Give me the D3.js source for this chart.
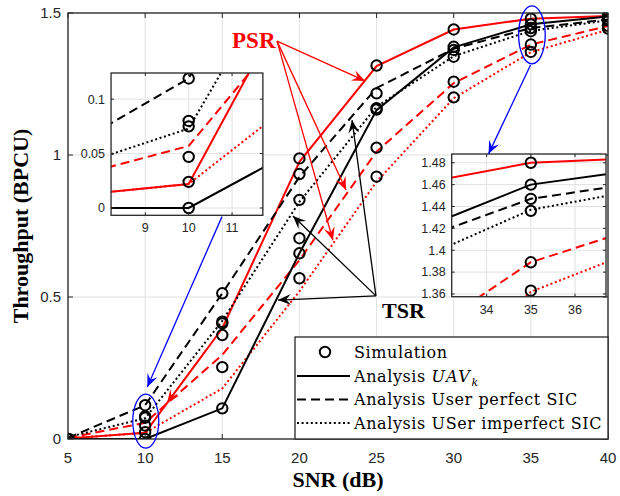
<!DOCTYPE html>
<html>
<head>
<script src="https://d3js.org/d3.v7.min.js"></script>
<style>
  body { margin: 0; background: #ffffff; }
</style>
</head>
<body>
<div id="chart"></div>
<script>
// SNR points (dB)
var snr = [5, 10, 15, 20, 25, 30, 35, 40];

// analysis curves, PSR (red) and TSR (black)
var psrUav       = [0.002, 0.022, 0.390, 0.976, 1.313, 1.442, 1.480, 1.489];
var psrPerfect   = [0.004, 0.057, 0.296, 0.630, 1.012, 1.253, 1.389, 1.454];
var psrImperfect = [0.002, 0.022, 0.178, 0.520, 0.906, 1.200, 1.362, 1.441];
var tsrUav       = [0.000, 0.000, 0.108, 0.654, 1.158, 1.379, 1.460, 1.488];
var tsrPerfect   = [0.004, 0.119, 0.513, 0.923, 1.236, 1.374, 1.447, 1.477];
var tsrImperfect = [0.007, 0.073, 0.416, 0.835, 1.170, 1.348, 1.437, 1.474];

// simulation markers
var simPsrUav       = [0.000, 0.024, 0.407, 0.988, 1.315, 1.442, 1.480, 1.490];
var simPsrPerfect   = [0.000, 0.047, 0.366, 0.654, 1.026, 1.258, 1.389, 1.455];
var simPsrImperfect = [0.000, 0.075, 0.253, 0.566, 0.924, 1.203, 1.363, 1.445];
var simTsrUav       = [0.000, 0.000, 0.108, 0.707, 1.160, 1.381, 1.460, 1.487];
var simTsrPerfect   = [0.000, 0.119, 0.513, 0.933, 1.217, 1.370, 1.447, 1.479];
var simTsrImperfect = [0.000, 0.080, 0.413, 0.842, 1.165, 1.346, 1.436, 1.474];

var xTicks = [5, 10, 15, 20, 25, 30, 35, 40];
var yTicks = [0, 0.5, 1, 1.5];
var yTickLabels = ["0", "0.5", "1", "1.5"];

var legendLabels = ["Simulation", "Analysis UAV_k", "Analysis User perfect SIC", "Analysis USer imperfect SIC"];

var RED = "#ff0000", BLACK = "#000000", BLUE = "#0000ff";
var DASH = "9,5", DOT = "2,2.6";

var series = [
  { line: psrUav,       sim: simPsrUav,       color: RED,   dash: null },
  { line: psrPerfect,   sim: simPsrPerfect,   color: RED,   dash: DASH },
  { line: psrImperfect, sim: simPsrImperfect, color: RED,   dash: DOT },
  { line: tsrUav,       sim: simTsrUav,       color: BLACK, dash: null },
  { line: tsrPerfect,   sim: simTsrPerfect,   color: BLACK, dash: DASH },
  { line: tsrImperfect, sim: simTsrImperfect, color: BLACK, dash: DOT }
];

var W = 620, H = 496;
var sans = "'Liberation Sans', Arial, Helvetica, sans-serif";
var serif = "'Liberation Serif', 'Times New Roman', serif";
var cmSerif = "'DejaVu Serif', serif";

var x = d3.scaleLinear().domain([5, 40]).range([68, 608]);
var y = d3.scaleLinear().domain([0, 1.5]).range([439, 13]);

var svg = d3.select("#chart").append("svg")
    .attr("width", W)
    .attr("height", H);
var defs = svg.append("defs");

// arrow heads
[["red", RED], ["black", BLACK], ["blue", BLUE]].forEach(function(c) {
  defs.append("marker")
      .attr("id", "arrow-" + c[0])
      .attr("viewBox", "-14 -7 15 14")
      .attr("refX", 0).attr("refY", 0)
      .attr("markerUnits", "userSpaceOnUse")
      .attr("markerWidth", 15).attr("markerHeight", 14)
      .attr("orient", "auto")
    .append("path")
      .attr("d", "M0,0 L-13,-5.5 L-8,0 L-13,5.5 Z")
      .attr("fill", c[1]);
});

// draws grid, curves, box and ticks for one axes (main or inset)
function drawPanel(xs, ys, o) {
  var g = svg.append("g");
  var xl = xs.range()[0], xr = xs.range()[1];
  var yb = ys.range()[0], yt = ys.range()[1];

  g.append("rect")
      .attr("x", xl).attr("y", yt)
      .attr("width", xr - xl).attr("height", yb - yt)
      .attr("fill", "#fff");

  // grid
  g.selectAll(null).data(o.xTicks).enter().append("line")
      .attr("x1", function(d) { return xs(d); }).attr("x2", function(d) { return xs(d); })
      .attr("y1", yb).attr("y2", yt)
      .attr("stroke", "#e1e1e1").attr("stroke-width", 1);
  g.selectAll(null).data(o.yTicks).enter().append("line")
      .attr("y1", function(d) { return ys(d); }).attr("y2", function(d) { return ys(d); })
      .attr("x1", xl).attr("x2", xr)
      .attr("stroke", "#e1e1e1").attr("stroke-width", 1);

  defs.append("clipPath").attr("id", o.id)
    .append("rect")
      .attr("x", xl).attr("y", yt)
      .attr("width", xr - xl).attr("height", yb - yt);

  var inner = g.append("g").attr("clip-path", "url(#" + o.id + ")");

  var line = d3.line()
      .x(function(d, i) { return xs(snr[i]); })
      .y(function(d) { return ys(d); });

  series.forEach(function(s) {
    inner.append("path")
        .attr("d", line(s.line))
        .attr("fill", "none")
        .attr("stroke", s.color)
        .attr("stroke-width", 2)
        .attr("stroke-dasharray", s.dash);
  });
  series.forEach(function(s) {
    inner.selectAll(null).data(s.sim).enter().append("circle")
        .attr("cx", function(d, i) { return xs(snr[i]); })
        .attr("cy", function(d) { return ys(d); })
        .attr("r", 5.2)
        .attr("fill", "none")
        .attr("stroke", "#000")
        .attr("stroke-width", 2);
  });

  // box
  g.append("rect")
      .attr("x", xl).attr("y", yt)
      .attr("width", xr - xl).attr("height", yb - yt)
      .attr("fill", "none")
      .attr("stroke", "#262626").attr("stroke-width", 1.3);

  // inward ticks on all four sides
  var tl = o.tickLen;
  o.xTicks.forEach(function(t) {
    g.append("line").attr("x1", xs(t)).attr("x2", xs(t)).attr("y1", yb).attr("y2", yb - tl)
        .attr("stroke", "#262626").attr("stroke-width", 1);
    g.append("line").attr("x1", xs(t)).attr("x2", xs(t)).attr("y1", yt).attr("y2", yt + tl)
        .attr("stroke", "#262626").attr("stroke-width", 1);
  });
  o.yTicks.forEach(function(t) {
    g.append("line").attr("y1", ys(t)).attr("y2", ys(t)).attr("x1", xl).attr("x2", xl + tl)
        .attr("stroke", "#262626").attr("stroke-width", 1);
    g.append("line").attr("y1", ys(t)).attr("y2", ys(t)).attr("x1", xr).attr("x2", xr - tl)
        .attr("stroke", "#262626").attr("stroke-width", 1);
  });

  // tick labels
  g.selectAll(null).data(o.xTicks).enter().append("text")
      .attr("x", function(d) { return xs(d); })
      .attr("y", yb + o.xLabelGap)
      .attr("text-anchor", "middle")
      .style("font-family", sans)
      .style("font-size", o.fontSize + "px")
      .attr("fill", "#262626")
      .text(function(d, i) { return o.xFmt(d, i); });
  g.selectAll(null).data(o.yTicks).enter().append("text")
      .attr("x", xl - o.yLabelGap)
      .attr("y", function(d) { return ys(d); })
      .attr("dy", "0.35em")
      .attr("text-anchor", "end")
      .style("font-family", sans)
      .style("font-size", o.fontSize + "px")
      .attr("fill", "#262626")
      .text(function(d, i) { return o.yFmt(d, i); });

  return g;
}

// main axes
drawPanel(x, y, {
  id: "clip-main", xTicks: xTicks, yTicks: yTicks, tickLen: 5,
  fontSize: 15, xLabelGap: 24, yLabelGap: 7,
  xFmt: function(d) { return d; },
  yFmt: function(d, i) { return yTickLabels[i]; }
});

// axis titles
svg.append("text")
    .attr("x", 338).attr("y", 487)
    .attr("text-anchor", "middle")
    .style("font-family", serif).style("font-weight", "bold").style("font-size", "22px")
    .text("SNR (dB)");
svg.append("text")
    .attr("transform", "translate(28," + y(0.75) + ") rotate(-90)")
    .attr("text-anchor", "middle")
    .style("font-family", serif).style("font-weight", "bold").style("font-size", "22px")
    .text("Throughput (BPCU)");

// legend
var lg = svg.append("g");
lg.append("rect")
    .attr("x", 295).attr("y", 337)
    .attr("width", 608 - 295).attr("height", 439 - 337)
    .attr("fill", "#fff").attr("stroke", "#262626").attr("stroke-width", 1.3);
var rowY = [352, 376, 399.5, 423];
var rowDash = [null, null, DASH, DOT];
legendLabels.forEach(function(lab, i) {
  if (i === 0) {
    lg.append("circle").attr("cx", 325).attr("cy", rowY[i]).attr("r", 5.2)
        .attr("fill", "none").attr("stroke", "#000").attr("stroke-width", 2);
  } else {
    lg.append("line").attr("x1", 297).attr("x2", 350)
        .attr("y1", rowY[i]).attr("y2", rowY[i])
        .attr("stroke", "#000").attr("stroke-width", 2)
        .attr("stroke-dasharray", rowDash[i]);
  }
  var t = lg.append("text")
      .attr("x", 354).attr("y", rowY[i] + 5.5)
      .style("font-family", cmSerif).style("font-size", "16px")
      .attr("letter-spacing", "0.6px")
      .attr("fill", "#000");
  if (lab.indexOf("_") > 0) {
    var parts = lab.split("_");
    var words = parts[0].split(" ");
    t.append("tspan").text(words[0] + " ");
    t.append("tspan").style("font-style", "italic").attr("letter-spacing", "1.5px").text(words[1]);
    t.append("tspan").style("font-style", "italic").style("font-size", "11px")
        .attr("dy", 4).text(parts[1]);
  } else {
    t.text(lab);
  }
});

// left inset, zoom around 10 dB
var xa = d3.scaleLinear().domain([8.21, 11.71]).range([x(7.79), x(17.63)]);
var ya = d3.scaleLinear().domain([-0.0067, 0.124]).range([y(0.7877), y(1.2887)]);
drawPanel(xa, ya, {
  id: "clip-a", xTicks: [9, 10, 11], yTicks: [0, 0.05, 0.1], tickLen: 3,
  fontSize: 12.5, xLabelGap: 17, yLabelGap: 6,
  xFmt: function(d) { return d; },
  yFmt: function(d) { return d3.format("")(d); }
});

// right inset, zoom around 35 dB
var xb = d3.scaleLinear().domain([33.21, 36.7]).range([x(29.87), x(39.87)]);
var yb = d3.scaleLinear().domain([1.3575, 1.488]).range([y(0.501), y(1.0035)]);
drawPanel(xb, yb, {
  id: "clip-b", xTicks: [34, 35, 36], yTicks: [1.36, 1.38, 1.4, 1.42, 1.44, 1.46, 1.48], tickLen: 3,
  fontSize: 12.5, xLabelGap: 17, yLabelGap: 6,
  xFmt: function(d) { return d; },
  yFmt: function(d) { return d3.format("")(+d.toFixed(2)); }
});

// blue ellipses and arrows towards the insets
var an = svg.append("g");
an.append("ellipse").attr("cx", x(10.04)).attr("cy", y(0.063)).attr("rx", 13).attr("ry", 27)
    .attr("fill", "none").attr("stroke", BLUE).attr("stroke-width", 1.3);
an.append("ellipse").attr("cx", x(35.07)).attr("cy", y(1.423)).attr("rx", 13.3).attr("ry", 29)
    .attr("fill", "none").attr("stroke", BLUE).attr("stroke-width", 1.3);

function arrow(x1, y1, x2, y2, color, name) {
  an.append("line")
      .attr("x1", x(x1)).attr("y1", y(y1))
      .attr("x2", x(x2)).attr("y2", y(y2))
      .attr("stroke", color).attr("stroke-width", 1.3)
      .attr("marker-end", "url(#arrow-" + name + ")");
}
arrow(14.98, 0.783, 10.14, 0.183, BLUE, "blue");
arrow(34.98, 1.317, 32.26, 1.004, BLUE, "blue");

// PSR callouts
var psr = [18.55, 1.401];
arrow(psr[0], psr[1], 24.25, 1.261, RED, "red");
arrow(psr[0], psr[1], 23.02, 0.877, RED, "red");
arrow(psr[0], psr[1], 22.17, 0.700, RED, "red");
// short arrow lying on the red solid curve below 15 dB
arrow(14.0, 0.317, 11.42, 0.127, RED, "red");
an.append("text")
    .attr("x", x(18.45)).attr("y", y(1.377))
    .attr("text-anchor", "end")
    .style("font-family", serif).style("font-weight", "bold").style("font-size", "23px")
    .attr("fill", RED)
    .text("PSR");

// TSR callouts
var tsr = [24.96, 0.504];
arrow(tsr[0], tsr[1], 18.61, 0.489, BLACK, "black");
arrow(tsr[0], tsr[1], 19.58, 0.785, BLACK, "black");
arrow(tsr[0], tsr[1], 23.41, 1.123, BLACK, "black");
an.append("text")
    .attr("x", x(25.35)).attr("y", y(0.426))
    .style("font-family", serif).style("font-weight", "bold").style("font-size", "22px")
    .attr("fill", BLACK)
    .text("TSR");
</script>
</body>
</html>
